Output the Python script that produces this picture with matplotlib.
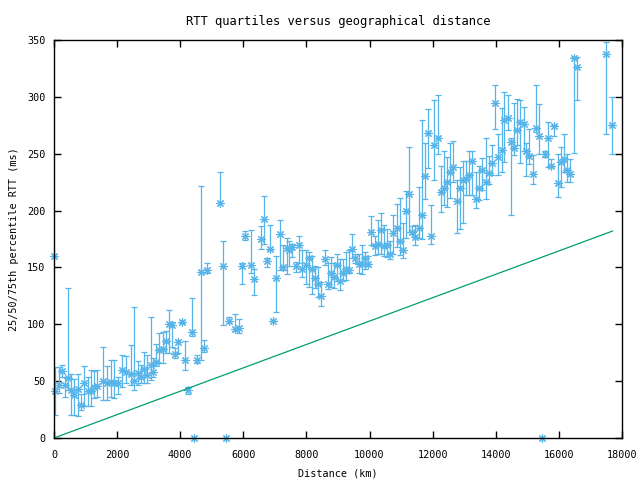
import numpy as np
import matplotlib
matplotlib.use("Agg")
from matplotlib import pyplot as plt

# distance (km), median RTT, 25th and 75th percentile RTT (ms)
dist_km = [0, 30, 160, 240, 350, 440, 540, 640, 750, 845, 960, 1070, 1160, 1280, 1370,
           1560, 1680, 1800, 1900, 2020, 2170, 2290, 2430, 2545, 2650, 2750, 2860, 2960,
           3060, 3150, 3240, 3340, 3440, 3550, 3630, 3750, 3840, 3940, 4070, 4160, 4260,
           4360, 4450, 4530, 4660, 4760, 4860, 5270, 5370, 5450, 5560, 5730, 5870, 5970,
           6060, 6250, 6350, 6560, 6660, 6760, 6850, 6950, 7050, 7160, 7270, 7370, 7460,
           7550, 7660, 7750, 7870, 7980, 8070, 8170, 8260, 8380, 8470, 8580, 8670, 8770,
           8860, 8980, 9060, 9170, 9260, 9360, 9450, 9540, 9670, 9760, 9870, 9950, 10060,
           10170, 10270, 10360, 10450, 10540, 10650, 10750, 10860, 10960, 11070, 11150,
           11260, 11360, 11440, 11570, 11670, 11760, 11860, 11960, 12050, 12180, 12260,
           12360, 12450, 12560, 12650, 12770, 12870, 12970, 13060, 13140, 13260, 13370,
           13470, 13570, 13680, 13790, 13870, 13990, 14080, 14190, 14270, 14380, 14470,
           14580, 14680, 14780, 14890, 14960, 15060, 15170, 15270, 15380, 15450, 15560,
           15660, 15760, 15860, 15980, 16070, 16170, 16270, 16350, 16490, 16580, 17480,
           17670]
rtt_med = [160, 41, 47, 59, 47, 53, 42, 38, 43, 29, 48, 41, 41, 45, 46,
           50, 48, 49, 48, 48, 60, 58, 56, 50, 57, 54, 61, 55,
           64, 58, 67, 77, 78, 85, 100, 99, 74, 84, 102, 69, 42,
           93, 0, 69, 146, 79, 148, 207, 151, 0, 103, 96, 97, 151,
           178, 152, 140, 175, 193, 156, 166, 103, 141, 179, 150, 167, 165,
           168, 151, 170, 149, 152, 158, 149, 141, 135, 125, 157, 135, 145,
           142, 152, 138, 145, 149, 148, 166, 158, 153, 153, 158, 153, 181,
           169, 171, 183, 169, 170, 162, 180, 185, 173, 165, 200,
           215, 181, 177, 185, 196, 230, 268, 178, 258, 264, 216,
           220, 225, 234, 238, 208, 220, 227, 228, 231, 244, 210,
           220, 236, 225, 233, 242, 295, 247, 253, 280, 281, 260,
           255, 271, 278, 276, 252, 248, 232, 273, 266, 0, 250,
           264, 239, 274, 224, 243, 245, 236, 232, 334, 326, 338,
           275]
rtt_q25 = [160, 20, 40, 54, 36, 42, 20, 20, 19, 25, 28, 28, 28, 35, 36,
           33, 33, 36, 35, 39, 45, 48, 47, 42, 47, 48, 48, 48,
           51, 54, 63, 66, 66, 75, 75, 80, 70, 75, 101, 60, 39,
           90, 0, 66, 69, 76, 145, 207, 99, 0, 101, 94, 92, 135,
           174, 145, 126, 166, 171, 150, 165, 103, 111, 148, 148, 144, 151,
           159, 146, 154, 142, 135, 133, 127, 132, 124, 116, 152, 131, 133,
           132, 138, 130, 138, 139, 145, 158, 154, 145, 144, 149, 151, 170,
           161, 162, 162, 160, 159, 157, 162, 168, 161, 158, 176,
           181, 179, 170, 176, 175, 210, 237, 171, 227, 250, 199,
           205, 203, 211, 225, 180, 184, 189, 214, 214, 214, 202,
           209, 218, 210, 223, 231, 272, 231, 234, 243, 271, 196,
           249, 258, 242, 252, 230, 241, 223, 269, 250, 0, 247,
           238, 238, 266, 212, 221, 234, 225, 225, 251, 297, 267,
           250]
rtt_q75 = [160, 62, 62, 64, 54, 132, 56, 52, 56, 39, 63, 54, 60, 59, 60,
           80, 63, 69, 69, 54, 73, 72, 82, 115, 68, 64, 76, 73,
           106, 70, 83, 92, 93, 94, 113, 102, 79, 86, 104, 85, 45,
           123, 0, 73, 222, 86, 154, 234, 173, 0, 106, 109, 105, 154,
           182, 183, 149, 186, 213, 158, 187, 103, 160, 192, 170, 176, 173,
           171, 155, 178, 165, 165, 164, 160, 151, 150, 137, 165, 154, 159,
           154, 162, 157, 157, 164, 165, 179, 162, 162, 170, 164, 160, 195,
           178, 192, 198, 187, 184, 173, 196, 206, 211, 189, 217,
           256, 186, 187, 221, 280, 259, 289, 205, 297, 302, 239,
           252, 247, 259, 261, 227, 238, 244, 244, 252, 252, 234,
           239, 246, 264, 248, 258, 310, 267, 290, 304, 302, 264,
           295, 298, 297, 291, 259, 272, 249, 310, 294, 0, 252,
           278, 245, 275, 250, 256, 267, 250, 245, 335, 335, 348,
           300]

# straight lower-bound line
bound_km = [0, 17700]
bound_ms = [0, 182]

plt.rcParams['font.family'] = ['DejaVu Sans Mono']
plt.rcParams['font.size'] = 7.3

fig = plt.figure(figsize=(6.4, 4.8), dpi=100)
ax = fig.add_axes([54 / 640, 1 - 438 / 480, 568 / 640, 398 / 480])

med = np.array(rtt_med)
lo = med - np.array(rtt_q25)
hi = np.array(rtt_q75) - med
ax.errorbar(dist_km, rtt_med, yerr=[lo, hi], fmt='none', ecolor='#56b4e9',
            elinewidth=0.9, capsize=2.5, capthick=0.9)
ax.plot(dist_km, rtt_med, linestyle='none', marker=(8, 2, 0), markersize=6,
        markeredgewidth=0.8, color='#56b4e9', clip_on=False)
ax.plot(bound_km, bound_ms, color='#009e73', linewidth=0.9)

ax.set_xlim(0, 18000)
ax.set_ylim(0, 350)
ax.set_xticks(np.arange(0, 18001, 2000))
ax.set_yticks(np.arange(0, 351, 50))
ax.tick_params(direction='in', length=5, width=1, top=True, right=True, pad=6)
ax.tick_params(axis='x', pad=9)
for s in ax.spines.values():
    s.set_linewidth(1.0)

ax.set_title("RTT quartiles versus geographical distance", pad=11)
ax.set_xlabel("Distance (km)", labelpad=6)
ax.set_ylabel("25/50/75th percentile RTT (ms)", labelpad=6)

fig.savefig("out.png", dpi=100)
